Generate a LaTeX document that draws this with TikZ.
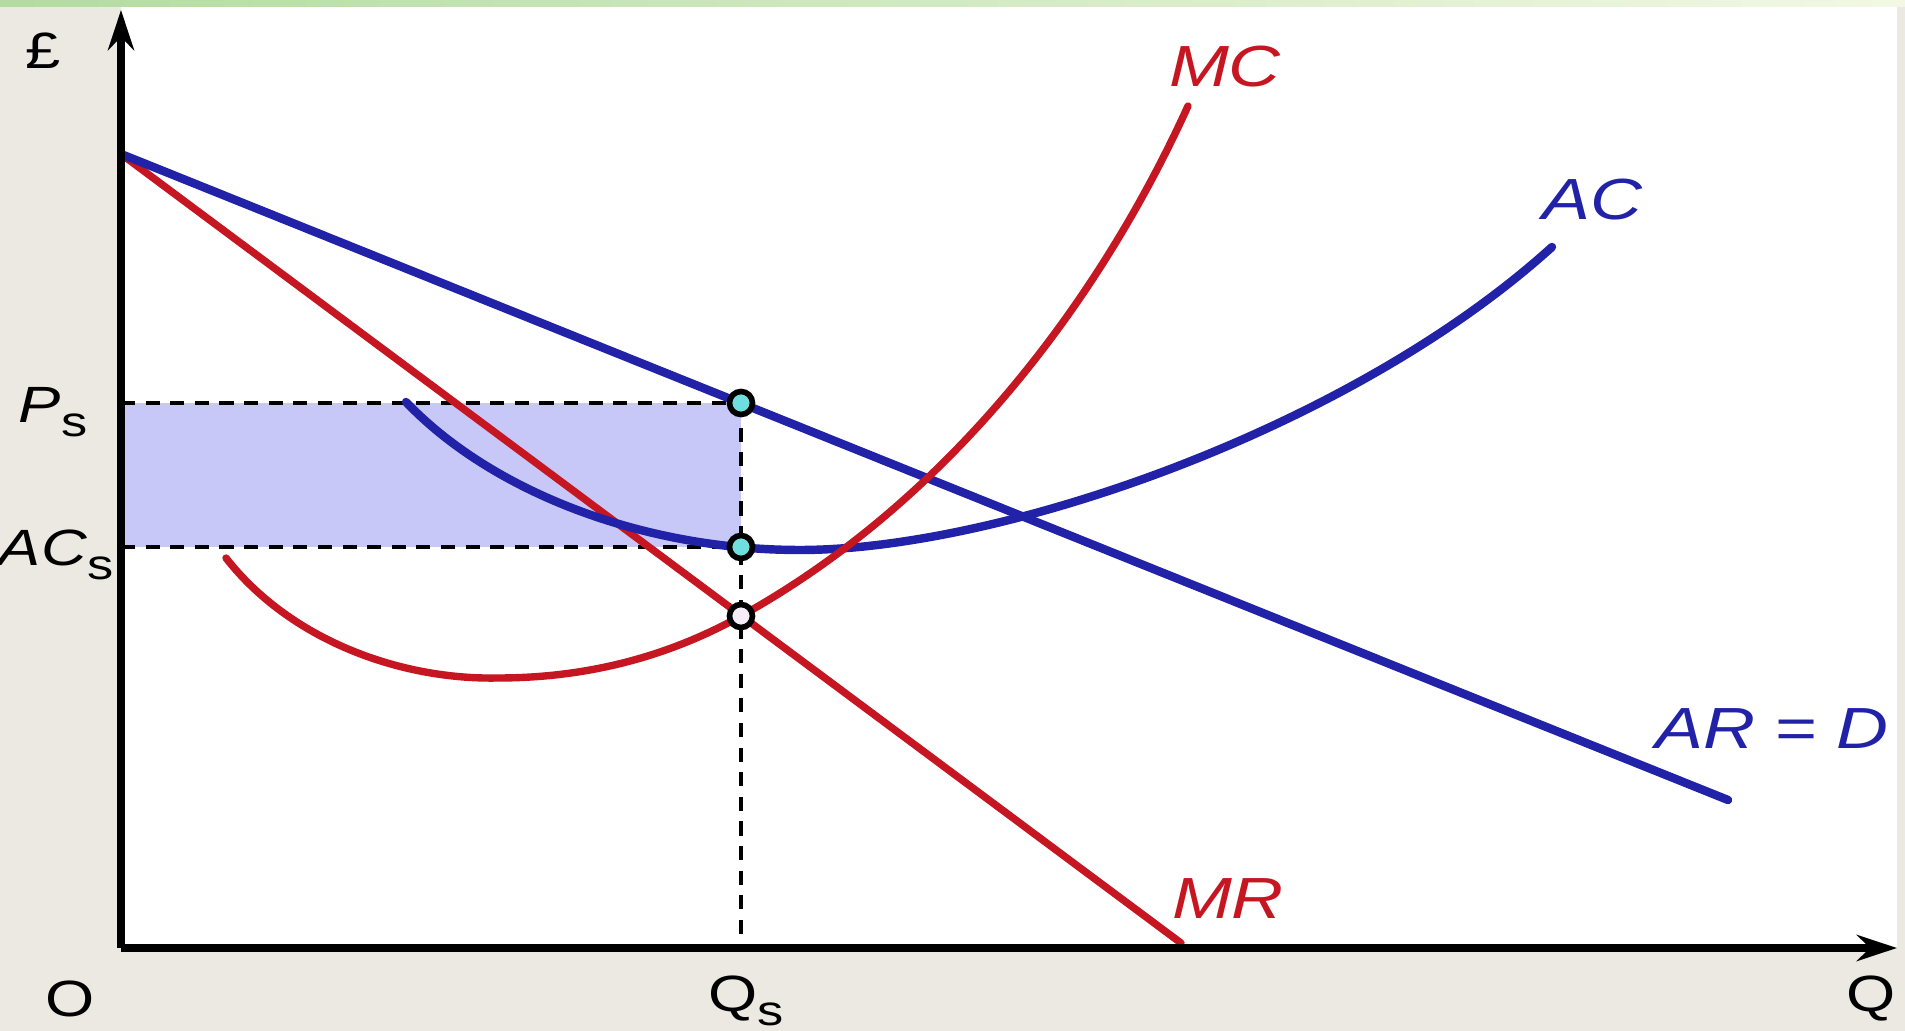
\documentclass[tikz,border=0pt]{standalone}
\usepackage{fontspec}
\setmainfont{Liberation Sans}
\usepackage{graphicx}
\usepackage{tikz}
\usetikzlibrary{arrows.meta, positioning}

\definecolor{costred}{RGB}{198,22,34}
\definecolor{revblue}{RGB}{34,34,168}
\definecolor{panelbg}{RGB}{236,233,226}
\definecolor{profitfill}{RGB}{200,200,248}
\definecolor{dotcyan}{RGB}{110,222,222}

\newcommand{\lowsub}[1]{\raisebox{-0.5ex}{\fontsize{12}{12}\selectfont #1}}
\newcommand{\wide}[1]{\scalebox{1.24}[1]{#1}}

\begin{document}
\begin{tikzpicture}[
    x=0.01cm, y=-0.01cm,
    axis/.style={line width=2pt, -{Stealth[length=4mm, width=2.6mm]}},
    guide/.style={line width=0.9pt, dash pattern=on 4pt off 3pt},
    redcurve/.style={line width=2.1pt, costred, line cap=round},
    bluecurve/.style={line width=2.4pt, revblue, line cap=round},
    dot/.style={circle, draw=black, line width=1.6pt, fill=dotcyan, inner sep=0pt, minimum size=0.23cm},
    curvelabel/.style={font=\fontsize{16.5}{16.5}\selectfont\itshape},
    axislabel/.style={font=\fontsize{14.5}{14.5}\selectfont}
  ]
    \useasboundingbox (0,0) rectangle (1905,1031);
    % background
    \fill[panelbg] (0,0) rectangle (1905,1031);
    \fill[white] (121,7) rectangle (1897,948);
    \shade[left color={rgb,255:red,178;green,220;blue,160}, right color={rgb,255:red,242;green,248;blue,228}] (0,0) rectangle (1905,7);

    % key points
    \coordinate (top) at (121,154);
    \coordinate (ps) at (741,403);
    \coordinate (acs) at (741,547);
    \coordinate (mcmr) at (741,616);
    \coordinate (qs) at (741,948);
    \coordinate (psaxis) at (121,403);
    \coordinate (acsaxis) at (121,547);

    % profit area
    \fill[profitfill] (psaxis) rectangle (acs);
    \draw[guide] (psaxis) -- (ps);
    \draw[guide] (acsaxis) -- (acs);
    \draw[guide] (ps) -- (qs);

    % revenue and cost curves
    \coordinate (arend) at (1728,800);
    \coordinate (mrend) at (1181,943);
    \draw[redcurve] (top) -- (mrend);
    \draw[bluecurve] (top) -- (arend);
    \draw[bluecurve] (406,402) .. controls (490,490) and (640,550) .. (800,550)
                               .. controls (1000,550) and (1350,430) .. (1552,247);
    \draw[redcurve] (226,558) .. controls (290,640) and (400,680) .. (498,678)
                              .. controls (600,678) and (680,650) .. (mcmr)
                              .. controls (950,500) and (1100,300) .. (1188,106);

    % axes
    \coordinate (origin) at (121,948);
    \draw[axis] (origin) -- (121,10);
    \draw[axis] (origin) -- (1897,948);

    \node[dot] at (ps) {};
    \node[dot] at (acs) {};
    \node[dot, fill={rgb,255:red,246;green,236;blue,246}] at (mcmr) {};

    \node[curvelabel, costred] (mclab) at (1225,67) {\wide{MC}};
    \node[curvelabel, revblue] (aclab) at (1592,200) {\wide{AC}};
    \node[curvelabel, revblue] (arlab) at (1772,729) {\wide{AR = D}};
    \node[curvelabel, costred] (mrlab) at (1228,899) {\wide{MR}};

    \node[axislabel] (pound) at (43,51) {\wide{£}};
    \node[axislabel] (pslab) at (53,412) {\wide{\textit{P}\lowsub{s}}};
    \node[axislabel, inner sep=0pt] (acslab) at (56,555) {\wide{\textit{AC}\lowsub{s}}};
    \node[axislabel] (olab) at (70,999) {\wide{O}};
    \node[axislabel] (qslab) at (746,1001) {\wide{Q\lowsub{s}}};
    \node[axislabel] (qlab) at (1871,999) {\wide{Q}};
  \end{tikzpicture}
\end{document}
